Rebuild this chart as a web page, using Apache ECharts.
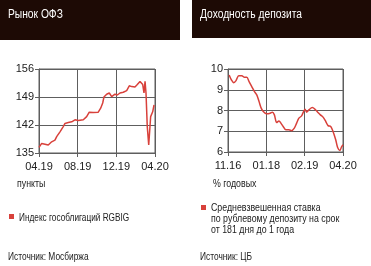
<!DOCTYPE html>
<html><head><meta charset="utf-8">
<script src="https://cdn.jsdelivr.net/npm/echarts@6/dist/echarts.min.js"></script>
<style>html,body{margin:0;padding:0;background:#fff}#c{width:371px;height:266px}</style>
</head><body><div id="c"></div>
<script>
// Left chart: ОФЗ index (x in months since 04.19)
const ofzTicks = ['04.19','08.19','12.19','04.20'];
const ofzX = [0,0.28,0.62,0.96,1.31,1.65,1.83,2.17,2.51,2.69,3.03,3.38,3.72,3.9,4.07,4.2,4.58,4.93,5.2,5.6,6.13,6.38,6.59,6.72,7.0,7.27,7.52,7.86,8.1,8.38,8.72,9.07,9.34,9.59,9.93,10.17,10.45,10.62,10.73,10.86,10.97,11.07,11.2,11.35,11.48,11.55,11.76,11.9];
const ofzY = [136.4,137.4,137.2,137.0,137.8,138.2,139.1,140.3,141.6,142.4,142.6,142.8,143.3,143.4,143.1,143.4,143.3,144.1,145.2,145.1,145.2,146.2,147.5,149.0,149.7,150.0,149.1,149.7,149.5,150.0,150.2,150.6,151.8,151.6,151.5,152.1,152.9,153.3,152.1,150.0,152.9,150.0,141.6,137.0,141.6,144.1,145.3,147.0];
const ofzYTicks = [135,142,149,156];
// Right chart: deposit rate (x in tick-interval units)
const depTicks = ['11.16','01.18','02.19','04.20'];
const depX = [0.03,0.09,0.15,0.21,0.28,0.36,0.43,0.49,0.55,0.62,0.69,0.75,0.81,0.86,0.92,1.01,1.1,1.16,1.21,1.27,1.33,1.38,1.44,1.51,1.59,1.66,1.73,1.79,1.85,1.92,1.96,2.01,2.05,2.11,2.2,2.27,2.34,2.41,2.48,2.55,2.61,2.68,2.74,2.81,2.86,2.92,2.96,3.0];
const depY = [9.71,9.47,9.34,9.44,9.68,9.68,9.60,9.60,9.39,9.15,8.91,8.75,8.43,8.14,7.95,7.84,7.87,7.92,7.79,7.42,7.50,7.39,7.23,7.07,7.07,7.03,7.15,7.39,7.63,7.74,7.90,8.06,7.92,8.03,8.14,8.06,7.92,7.79,7.68,7.47,7.27,7.23,6.99,6.59,6.22,6.07,6.24,6.35];

const FONT = '"Liberation Sans",Arial,sans-serif';
const RED = '#d8413b';
const GRID = '#5e5e5e';
const TXT = '#222';

const chart = echarts.init(document.getElementById('c'), null, {renderer:'canvas'});
function xAxis(gi, labels){
  return {type:'value', gridIndex:gi, min:0, max:(gi===0?12:3), interval:(gi===0?4:1),
    axisLine:{show:true,lineStyle:{color:GRID,width:1}},
    axisTick:{show:true,length:4,lineStyle:{color:GRID}},
    splitLine:{show:true,lineStyle:{color:GRID,width:1}},
    axisLabel:{color:TXT,fontFamily:FONT,fontSize:11,margin:8,
      formatter:(v)=>labels[Math.round(v/(gi===0?4:1))]}};
}
function yAxis(gi,min,max,interval){
  return {type:'value', gridIndex:gi, min:min, max:max, interval:interval,
    axisLine:{show:true,lineStyle:{color:GRID,width:1}},
    axisTick:{show:true,length:4,lineStyle:{color:GRID}},
    splitLine:{show:true,lineStyle:{color:GRID,width:1}},
    axisLabel:{color:TXT,fontFamily:FONT,fontSize:11,margin:5}};
}
function txt(x,y,s,size,sx,fill,lh){
  return {type:'text',x:x,y:y,scaleX:sx,style:{text:s,fill:fill||TXT,font:size+'px '+FONT,lineHeight:lh||size*1.2}};
}
const option = {
  animation:false,
  backgroundColor:'#fff',
  grid:[
    {left:39,top:69,width:116,height:84,show:true,borderColor:GRID,borderWidth:1},
    {left:228,top:69,width:115,height:83,show:true,borderColor:GRID,borderWidth:1}
  ],
  xAxis:[xAxis(0,ofzTicks), xAxis(1,depTicks)],
  yAxis:[yAxis(0,ofzYTicks[0],ofzYTicks[3],7), yAxis(1,6,10,1)],
  series:[
    {type:'line',xAxisIndex:0,yAxisIndex:0,showSymbol:false,data:ofzX.map((x,i)=>[x,ofzY[i]]),lineStyle:{color:RED,width:1.5},itemStyle:{color:RED}},
    {type:'line',xAxisIndex:1,yAxisIndex:1,showSymbol:false,smooth:0.3,data:depX.map((x,i)=>[x,depY[i]]),lineStyle:{color:RED,width:1.5},itemStyle:{color:RED}}
  ],
  graphic:[
    {type:'rect',shape:{x:0,y:0,width:180,height:40},style:{fill:'#1d0a05'}},
    {type:'rect',shape:{x:192,y:0,width:179,height:38},style:{fill:'#1d0a05'}},
    txt(8,7,'Рынок ОФЗ',12.5,0.82,'#fff'),
    txt(200,7,'Доходность депозита',12.5,0.82,'#fff'),
    txt(17,177,'пункты',11,0.8),
    txt(213,177,'% годовых',11,0.8),
    {type:'rect',shape:{x:9,y:214,width:5,height:5},style:{fill:RED}},
    txt(19,211,'Индекс гособлигаций RGBIG',11,0.75),
    {type:'rect',shape:{x:201,y:205,width:5,height:5},style:{fill:RED}},
    txt(211,202,'Средневзвешенная ставка\nпо рублевому депозиту на срок\nот 181 дня до 1 года',11,0.8,TXT,11.3),
    txt(8,250,'Источник: Мосбиржа',11,0.76),
    txt(200,250,'Источник: ЦБ',11,0.76)
  ]
};
chart.setOption(option);
</script></body></html>
